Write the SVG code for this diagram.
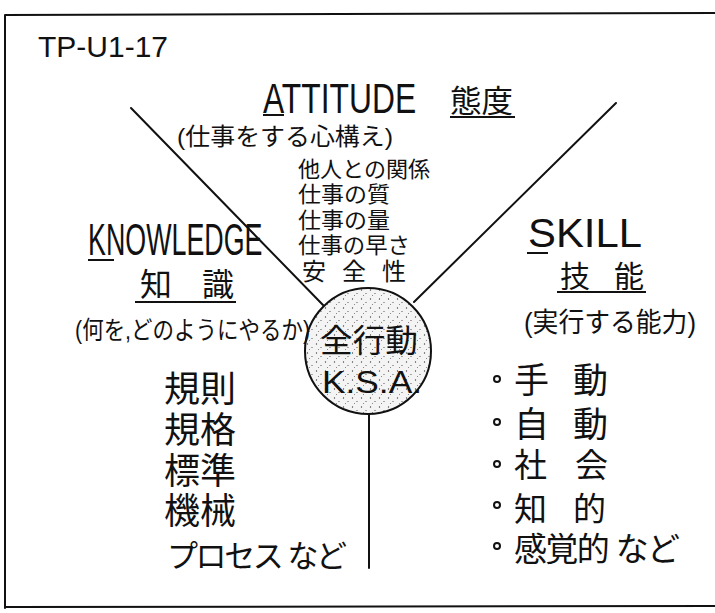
<svg xmlns="http://www.w3.org/2000/svg" width="715" height="613" viewBox="0 0 715 613">
  <defs>
    <pattern id="stipple" width="9" height="9" patternUnits="userSpaceOnUse">
      <circle cx="1.5" cy="2" r="0.7" fill="#444"/>
      <circle cx="6" cy="5.5" r="0.6" fill="#444"/>
      <circle cx="3.5" cy="7.5" r="0.5" fill="#666"/>
    </pattern>
    <style>
      .en { font-family: "Liberation Sans", "DejaVu Sans", sans-serif; fill: #111; }
      .jp { font-family: "Liberation Sans", "Noto Sans CJK JP", sans-serif; fill: #111; }
      .ln { stroke: #111; stroke-width: 2; fill: none; stroke-linecap: round; }
      .ul { stroke: #111; stroke-width: 2; }
    </style>
  </defs>
  <rect width="715" height="613" fill="#fff"/>

  <!-- frame -->
  <g id="frame">
    <path class="ln" d="M5 15 L715 13 M5 15 L5 608 M5 607 L715 606"/>
  </g>

  <text class="en" x="38" y="57" font-size="30">TP-U1-17</text>

  <!-- connectors -->
  <g id="connectors">
    <line class="ln" x1="131" y1="108" x2="323" y2="305"/>
    <line class="ln" x1="616" y1="103" x2="414" y2="302"/>
    <line class="ln" x1="369" y1="414" x2="369" y2="568"/>
  </g>

  <!-- center -->
  <g id="node-center">
    <circle cx="368" cy="351" r="63" fill="#f4f4f4"/>
    <circle cx="368" cy="351" r="63" fill="url(#stipple)" stroke="#111" stroke-width="2"/>
    <text class="jp" x="320" y="352" font-size="32" textLength="98" lengthAdjust="spacingAndGlyphs">全行動</text>
    <text class="en" x="322" y="393" font-size="32" textLength="100" lengthAdjust="spacingAndGlyphs">K.S.A.</text>
  </g>

  <!-- attitude -->
  <g id="node-attitude">
    <text class="en" font-size="43" transform="translate(263 113) scale(0.74 1)">ATTITUDE</text>
    <line class="ul" x1="263" y1="115" x2="284" y2="115"/>
    <text class="jp" x="450" y="112" font-size="31" textLength="63" lengthAdjust="spacingAndGlyphs">態度</text>
    <line class="ul" x1="450" y1="117" x2="515" y2="117"/>
    <text class="jp" x="177" y="145" font-size="24" textLength="216" lengthAdjust="spacingAndGlyphs">(仕事をする心構え)</text>
    <text class="jp" x="298" y="177" font-size="22" textLength="132" lengthAdjust="spacingAndGlyphs">他人との関係</text>
    <text class="jp" x="298" y="202" font-size="22" textLength="92" lengthAdjust="spacingAndGlyphs">仕事の質</text>
    <text class="jp" x="298" y="228" font-size="22" textLength="92" lengthAdjust="spacingAndGlyphs">仕事の量</text>
    <text class="jp" x="298" y="253" font-size="22" textLength="112" lengthAdjust="spacingAndGlyphs">仕事の早さ</text>
    <text class="jp" x="302" y="280" font-size="24" textLength="104" lengthAdjust="spacing">安全性</text>
  </g>

  <!-- knowledge -->
  <g id="node-knowledge">
    <text class="en" font-size="44" transform="translate(88 255) scale(0.61 1)">KNOWLEDGE</text>
    <line class="ul" x1="88" y1="260" x2="114" y2="260"/>
    <text class="jp" x="140" y="296" font-size="32" textLength="94" lengthAdjust="spacing">知識</text>
    <line class="ul" x1="135" y1="302" x2="236" y2="302"/>
    <text class="jp" font-size="25" transform="translate(75 339) scale(0.86 1)">(何を,どのようにやるか)</text>
    <text class="jp" x="164" y="402" font-size="36">規則</text>
    <text class="jp" x="164" y="443" font-size="36">規格</text>
    <text class="jp" x="164" y="484" font-size="36">標準</text>
    <text class="jp" x="164" y="524" font-size="36">機械</text>
    <text class="jp" x="167" y="567" font-size="31" textLength="180" lengthAdjust="spacing">プロセス など</text>
  </g>

  <!-- skill -->
  <g id="node-skill">
    <text class="en" x="528" y="247" font-size="41" textLength="114" lengthAdjust="spacingAndGlyphs">SKILL</text>
    <line class="ul" x1="527" y1="253" x2="548" y2="253"/>
    <text class="jp" x="560" y="287" font-size="30" textLength="84" lengthAdjust="spacing">技能</text>
    <line class="ul" x1="557" y1="292" x2="646" y2="292"/>
    <text class="jp" x="524" y="332" font-size="27" textLength="172" lengthAdjust="spacingAndGlyphs">(実行する能力)</text>
    <g fill="none" stroke="#111" stroke-width="2">
      <circle cx="497" cy="379" r="3"/>
      <circle cx="497" cy="422" r="3"/>
      <circle cx="497" cy="464" r="3"/>
      <circle cx="497" cy="505" r="3"/>
      <circle cx="497" cy="546" r="3"/>
    </g>
    <text class="jp" x="514" y="393" font-size="35" textLength="94" lengthAdjust="spacing">手 動</text>
    <text class="jp" x="514" y="437" font-size="35" textLength="94" lengthAdjust="spacing">自 動</text>
    <text class="jp" x="514" y="477" font-size="33" textLength="94" lengthAdjust="spacing">社 会</text>
    <text class="jp" x="514" y="521" font-size="33" textLength="92" lengthAdjust="spacing">知 的</text>
    <text class="jp" x="514" y="561" font-size="33" textLength="166" lengthAdjust="spacing">感覚的 など</text>
  </g>
</svg>
